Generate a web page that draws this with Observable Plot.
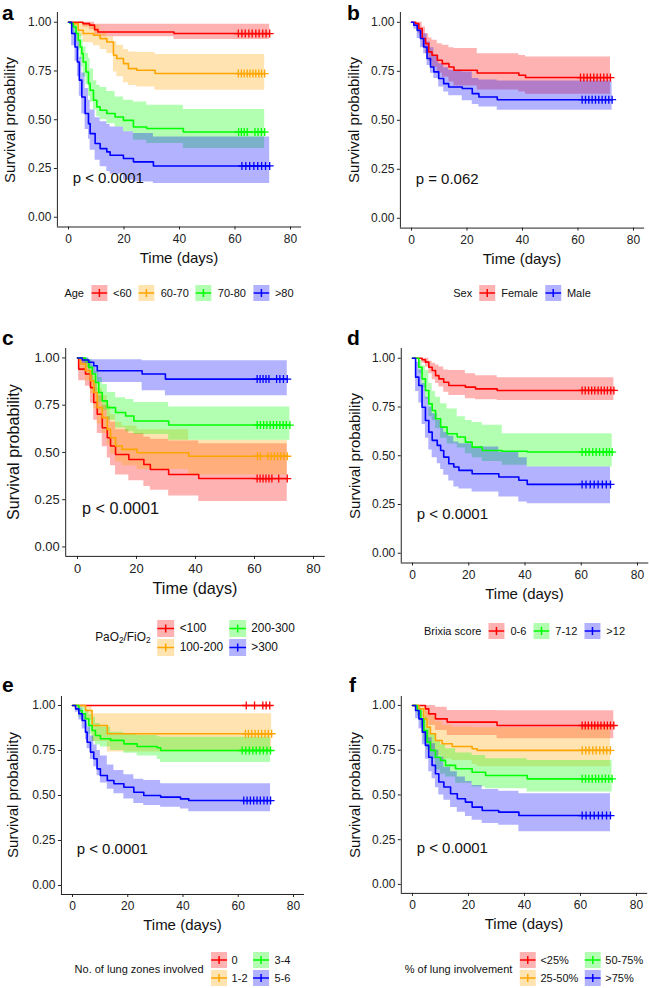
<!DOCTYPE html>
<html><head><meta charset="utf-8">
<script src="https://cdn.jsdelivr.net/npm/d3@7"></script>
<script src="https://cdn.jsdelivr.net/npm/@observablehq/plot@0.6"></script>
<style>
body{margin:0;background:#fff;}
#root{position:relative;width:649px;height:988px;overflow:hidden;font-family:"Liberation Sans",Arial,sans-serif;color:#111;}
.t{position:absolute;white-space:nowrap;line-height:1;}
sub{font-size:70%;vertical-align:-0.25em;line-height:0;}
</style></head><body><div id="root"></div>
<script>
// ---------- shared ticks ----------
const timeTicks = [0, 20, 40, 60, 80];
const survTicks = [0, 0.25, 0.5, 0.75, 1];
const xDomain = [-4, 84];
const yDomain = [-0.05, 1.05];
const pvalAt = [1.5, 0.2];

// rows: [time, survival, lower CI, upper CI]
// ---------- a: Age ----------
const ageLabels = ["<60", "60-70", "70-80", ">80"];
const ageLt60 = [[0,1,1,1],[5.2,0.993,0.975,1],[7.6,0.985,0.962,1],[9.4,0.962,0.935,0.99],[10.6,0.95,0.925,0.99],[38,0.942,0.912,0.99],[72.5,0.942,0.912,0.99]];
const age60to70 = [[0,1,1,1],[1.15,0.993,0.975,1],[3.5,0.959,0.925,0.995],[5.3,0.942,0.895,0.99],[9,0.933,0.88,0.985],[11.4,0.916,0.86,0.95],[13.8,0.899,0.84,0.925],[16.2,0.831,0.745,0.9],[17.4,0.814,0.72,0.882],[19.8,0.788,0.69,0.86],[21.6,0.762,0.675,0.848],[24.6,0.754,0.668,0.845],[31.2,0.737,0.651,0.835],[70.7,0.737,0.651,0.835]];
const age70to80 = [[0,1,1,1],[0.5,0.995,0.985,1],[1.7,0.976,0.94,1],[2.7,0.942,0.9,0.985],[3.5,0.908,0.856,0.96],[4.2,0.873,0.81,0.942],[4.8,0.839,0.771,0.91],[5.3,0.796,0.72,0.873],[6.3,0.745,0.68,0.84],[7.2,0.686,0.62,0.814],[7.8,0.651,0.59,0.76],[9.0,0.6,0.55,0.7],[10.2,0.566,0.515,0.677],[11.4,0.549,0.5,0.665],[13.8,0.532,0.48,0.645],[16.8,0.514,0.463,0.617],[19.8,0.497,0.438,0.6],[23.4,0.463,0.395,0.591],[28.2,0.455,0.378,0.574],[41.4,0.437,0.352,0.553],[70.7,0.437,0.352,0.553]];
const ageGt80 = [[0,1,1,1],[1.15,0.942,0.88,0.99],[2.35,0.873,0.8,0.95],[3.2,0.796,0.72,0.9],[3.9,0.703,0.62,0.82],[4.8,0.617,0.53,0.74],[6.0,0.532,0.45,0.66],[7.2,0.48,0.4,0.6],[7.8,0.429,0.344,0.55],[9.6,0.378,0.292,0.51],[11.4,0.352,0.259,0.49],[13.8,0.335,0.235,0.475],[15.0,0.318,0.22,0.463],[19.8,0.301,0.19,0.438],[23.4,0.284,0.181,0.429],[30.6,0.263,0.173,0.412],[72.5,0.263,0.173,0.412]];
const ageLt60Cens = [61.2,62.5,63.7,65.0,66.2,67.5,68.7,70.0,71.2,72.5];
const age60to70Cens = [61.2,62.3,63.3,64.4,65.4,66.5,67.5,68.6,69.6,70.7];
const age70to80Cens = [61.3,62.3,63.3,64.4,67.2,68.3,69.5,70.7];
const ageGt80Cens = [62.5,63.9,65.3,66.8,68.2,69.6,71.0,72.5];

// ---------- b: Sex ----------
const sexLabels = ["Female", "Male"];
const sexFemale = [[0,1,1,1],[1.44,0.993,0.98,1],[2.6,0.968,0.94,1],[3.85,0.917,0.874,0.976],[5.05,0.891,0.84,0.942],[6.2,0.849,0.8,0.92],[7.4,0.832,0.77,0.908],[9.3,0.806,0.74,0.89],[11.1,0.789,0.72,0.883],[13.5,0.772,0.695,0.87],[15.3,0.755,0.675,0.866],[23.7,0.741,0.655,0.84],[38.7,0.73,0.645,0.83],[41.1,0.718,0.633,0.823],[71.7,0.718,0.633,0.823]];
const sexMale = [[0,1,1,1],[0.84,0.985,0.965,1],[2.05,0.959,0.917,0.99],[3.24,0.917,0.87,0.96],[4.4,0.874,0.84,0.942],[5.6,0.815,0.78,0.9],[6.85,0.772,0.74,0.87],[8.05,0.747,0.713,0.832],[9.8,0.713,0.67,0.789],[11.6,0.687,0.645,0.768],[13.4,0.67,0.625,0.755],[18.3,0.662,0.6,0.747],[21.9,0.636,0.58,0.713],[24.3,0.619,0.568,0.705],[30.9,0.605,0.551,0.7],[72.3,0.605,0.551,0.7]];
const sexFemaleCens = [60.9,62.1,63.3,64.5,65.7,66.9,68.1,69.3,70.5,71.7];
const sexMaleCens = [61.5,62.7,63.9,65.1,66.3,67.5,68.7,69.9,71.1,72.3];

// ---------- c: PaO2/FiO2 ----------
const pfLabels = ["<100", "100-200", "200-300", ">300"];
const pfLt100 = [[0,1,1,1],[0.4,0.941,0.88,1],[2.7,0.915,0.85,0.98],[4.4,0.843,0.76,0.93],[5.5,0.764,0.67,0.87],[6.7,0.702,0.6,0.8],[8.4,0.631,0.53,0.75],[10.1,0.578,0.47,0.69],[11.2,0.534,0.43,0.66],[12.9,0.489,0.38,0.62],[17.4,0.463,0.35,0.6],[22.5,0.436,0.32,0.58],[24.7,0.41,0.3,0.57],[30.9,0.383,0.27,0.56],[41.1,0.362,0.241,0.546],[71.1,0.362,0.241,0.546]];
const pf100to200 = [[0,1,1,1],[1.0,0.968,0.93,1],[2.7,0.932,0.88,0.985],[4.4,0.879,0.81,0.95],[5.5,0.817,0.73,0.9],[6.7,0.737,0.65,0.84],[8.4,0.684,0.6,0.8],[10.1,0.622,0.54,0.75],[11.2,0.578,0.49,0.7],[12.9,0.534,0.45,0.66],[15.1,0.516,0.43,0.64],[20.2,0.498,0.41,0.62],[37.7,0.48,0.38,0.565],[71.1,0.48,0.38,0.565]];
const pf200to300 = [[0,1,1,1],[2.7,0.986,0.95,1],[3.8,0.95,0.91,0.99],[5.0,0.915,0.87,0.96],[6.1,0.87,0.82,0.93],[7.2,0.817,0.766,0.897],[8.4,0.773,0.72,0.86],[10.1,0.737,0.67,0.817],[12.9,0.711,0.63,0.79],[16.3,0.693,0.61,0.78],[19.1,0.666,0.595,0.764],[30.9,0.645,0.564,0.741],[72.0,0.645,0.564,0.741]];
const pfGt300 = [[0,1,1,1],[1.6,0.989,0.97,1],[3.8,0.977,0.95,0.99],[5.5,0.959,0.915,0.99],[6.7,0.932,0.87,0.99],[21.9,0.915,0.826,0.985],[29.8,0.888,0.8,0.985],[71.1,0.888,0.8,0.985]];
const pfLt100Cens = [60.9,61.9,62.9,63.9,64.9,65.9,68.2,71.1];
const pf100to200Cens = [61.0,62.0,64.5,65.6,66.7,67.8,68.9,70.0,71.1];
const pf200to300Cens = [60.9,62.0,63.1,64.2,65.3,66.4,67.5,68.6,69.7,70.8,72.0];
const pfGt300Cens = [60.9,61.9,62.9,63.9,64.9,67.5,68.6,69.8,71.1];

// ---------- d: Brixia score ----------
const brixLabels = ["0-6", "7-12", ">12"];
const brix0to6 = [[0,1,1,1],[3.4,0.992,0.975,1],[4.6,0.98,0.955,1],[5.8,0.954,0.92,0.985],[7.0,0.937,0.89,0.975],[8.2,0.911,0.87,0.965],[9.4,0.894,0.852,0.955],[11.1,0.877,0.826,0.94],[12.9,0.86,0.809,0.937],[18.8,0.852,0.792,0.92],[22.4,0.843,0.787,0.91],[30.1,0.835,0.783,0.9],[71.6,0.835,0.783,0.9]];
const brix7to12 = [[0,1,1,1],[2.25,0.954,0.92,0.99],[3.4,0.894,0.85,0.96],[4.6,0.835,0.79,0.937],[5.8,0.766,0.7,0.87],[7.0,0.732,0.68,0.83],[8.2,0.69,0.64,0.8],[10,0.647,0.59,0.767],[12.3,0.613,0.56,0.74],[15.9,0.596,0.54,0.7],[18.8,0.57,0.51,0.681],[21.2,0.544,0.49,0.67],[24.8,0.527,0.47,0.656],[31.9,0.523,0.451,0.613],[40.8,0.519,0.442,0.613],[71.0,0.519,0.442,0.613]];
const brixGt12 = [[0,1,1,1],[1.1,0.903,0.83,0.98],[2.25,0.86,0.77,0.94],[3.4,0.749,0.66,0.87],[4.6,0.681,0.59,0.8],[5.8,0.621,0.53,0.75],[7.0,0.579,0.49,0.715],[8.8,0.553,0.459,0.681],[10.0,0.527,0.43,0.65],[11.1,0.493,0.4,0.62],[12.9,0.459,0.37,0.6],[14.7,0.442,0.34,0.57],[16.5,0.425,0.33,0.562],[21.2,0.408,0.314,0.545],[30.7,0.391,0.289,0.519],[37.8,0.374,0.263,0.49],[40.8,0.353,0.254,0.442],[70.4,0.353,0.254,0.442]];
const brix0to6Cens = [60.3,61.4,62.6,63.7,64.8,66.0,67.1,68.2,69.3,70.5,71.6];
const brix7to12Cens = [60.3,61.6,62.8,64.1,65.3,66.5,67.8,69.0,70.0,71.0];
const brixGt12Cens = [60.3,61.7,63.2,64.6,66.0,67.5,68.9,70.4];

// ---------- e: No. of lung zones involved ----------
const zoneLabels = ["0", "1-2", "3-4", "5-6"];
const zone0 = [[0,1,1,1],[71.4,1,1,1]];
const zone1to2 = [[0,1,1,1],[4.7,0.972,0.917,1],[7.1,0.889,0.8,0.954],[12.6,0.843,0.741,0.954],[72.1,0.843,0.741,0.954]];
const zone3to4 = [[0,1,1,1],[2.3,0.972,0.935,1],[3.5,0.954,0.91,0.99],[4.7,0.926,0.88,0.976],[5.9,0.889,0.84,0.95],[7.1,0.861,0.8,0.935],[8.3,0.833,0.78,0.9],[10.1,0.815,0.769,0.88],[13.8,0.806,0.75,0.852],[18.6,0.787,0.735,0.84],[23.4,0.772,0.72,0.833],[30.7,0.765,0.7,0.826],[31.9,0.75,0.683,0.824],[71.7,0.75,0.683,0.824]];
const zone5to6 = [[0,1,1,1],[1.1,0.981,0.963,0.995],[2.3,0.954,0.92,0.985],[3.5,0.917,0.87,0.954],[4.7,0.852,0.81,0.9],[5.3,0.796,0.76,0.88],[6.5,0.741,0.7,0.83],[7.7,0.704,0.66,0.78],[8.9,0.648,0.61,0.75],[10.1,0.611,0.57,0.72],[12.6,0.583,0.535,0.67],[15.0,0.565,0.509,0.639],[18.6,0.546,0.48,0.615],[22.2,0.518,0.455,0.59],[25.8,0.5,0.444,0.583],[31.9,0.491,0.435,0.565],[39.1,0.481,0.425,0.565],[42.1,0.472,0.41,0.565],[71.7,0.472,0.41,0.565]];
const zone0Cens = [62.9,65.9,68.9,70.1,71.4];
const zone1to2Cens = [62.6,63.7,64.9,66.1,67.3,68.5,69.7,70.9,72.1];
const zone3to4Cens = [61.4,62.7,64.0,65.3,66.5,67.8,69.1,70.4,71.7];
const zone5to6Cens = [62.0,63.2,64.4,65.6,66.8,68.0,69.3,70.5,71.7];

// ---------- f: % of lung involvement ----------
const invLabels = ["<25%", "25-50%", "50-75%", ">75%"];
const invLt25 = [[0,1,1,1],[4.6,0.981,0.925,1],[5.8,0.953,0.888,1],[8.2,0.925,0.86,0.99],[12.4,0.907,0.832,0.972],[30.2,0.888,0.814,0.97],[71.9,0.888,0.814,0.97]];
const inv25to50 = [[0,1,1,1],[2.3,0.981,0.935,1],[4.0,0.925,0.851,0.99],[5.2,0.879,0.795,0.96],[6.4,0.842,0.749,0.94],[8.2,0.804,0.721,0.91],[10.6,0.786,0.7,0.89],[14.2,0.771,0.693,0.88],[21.3,0.758,0.67,0.877],[23.1,0.749,0.658,0.875],[70.7,0.749,0.658,0.875]];
const inv50to75 = [[0,1,1,1],[1.7,0.972,0.944,1],[2.9,0.925,0.88,0.97],[4.0,0.86,0.8,0.935],[5.2,0.795,0.75,0.88],[6.4,0.749,0.7,0.84],[8.2,0.711,0.64,0.804],[10,0.693,0.615,0.78],[11.8,0.665,0.6,0.758],[15.4,0.646,0.565,0.735],[21.3,0.627,0.545,0.72],[26.1,0.609,0.534,0.702],[41,0.59,0.516,0.693],[71.3,0.59,0.516,0.693]];
const invGt75 = [[0,1,1,1],[1.1,0.972,0.925,1],[2.3,0.925,0.87,0.981],[3.5,0.851,0.78,0.925],[4.6,0.777,0.7,0.86],[5.8,0.711,0.63,0.82],[7.0,0.665,0.59,0.786],[8.2,0.618,0.54,0.75],[9.4,0.572,0.5,0.711],[11.2,0.544,0.47,0.655],[13.6,0.507,0.43,0.63],[16.0,0.479,0.404,0.6],[18.9,0.46,0.38,0.575],[21.3,0.432,0.358,0.553],[24.9,0.413,0.34,0.53],[30.8,0.404,0.33,0.52],[38.0,0.385,0.295,0.507],[70.7,0.385,0.295,0.507]];
const invLt25Cens = [60.6,61.7,62.8,64.0,65.1,66.2,67.3,68.5,69.6,70.7,71.9];
const inv25to50Cens = [60.6,61.9,63.1,64.4,65.6,66.9,68.2,69.4,70.7];
const inv50to75Cens = [60.6,61.8,63.0,64.2,65.4,66.5,67.7,68.9,70.1,71.3];
const invGt75Cens = [60.6,62.0,63.5,64.9,66.4,67.8,69.3,70.7];

// ---------- colours ----------
const RED = "#FF0000", ORANGE = "#FFA500", GREEN = "#00FF00", BLUE = "#0000FF";

// ---------- panels (layout + references to data) ----------
const panels = [
  {letter:"a", left:0, x0:68, x80:290, y1:22, y0:217, scale:1, yTitleX:9, letterX:2, letterBase:20, legendY:293, legendTitle:"Age", grid:false,
   pval:"p < 0.0001", groups:[[ageLabels[0],ageLt60,ageLt60Cens,RED],[ageLabels[1],age60to70,age60to70Cens,ORANGE],[ageLabels[2],age70to80,age70to80Cens,GREEN],[ageLabels[3],ageGt80,ageGt80Cens,BLUE]]},
  {letter:"b", left:325, x0:411, x80:633, y1:22, y0:218, scale:1, yTitleX:353, letterX:347, letterBase:20, legendY:293, legendTitle:"Sex", grid:false,
   pval:"p = 0.062", groups:[[sexLabels[0],sexFemale,sexFemaleCens,RED],[sexLabels[1],sexMale,sexMaleCens,BLUE]]},
  {letter:"c", left:0, x0:77, x80:313, y1:357, y0:546, scale:1.08, yTitleX:13, letterX:2, letterBase:345, legendY:638, legendTitle:"PaO<sub>2</sub>/FiO<sub>2</sub>", grid:true,
   pval:"p < 0.0001", groups:[[pfLabels[0],pfLt100,pfLt100Cens,RED],[pfLabels[1],pf100to200,pf100to200Cens,ORANGE],[pfLabels[2],pf200to300,pf200to300Cens,GREEN],[pfLabels[3],pfGt300,pfGt300Cens,BLUE]]},
  {letter:"d", left:325, x0:412, x80:637, y1:358, y0:553, scale:1, yTitleX:354, letterX:347, letterBase:345, legendY:631, legendTitle:"Brixia score", grid:false,
   pval:"p < 0.0001", groups:[[brixLabels[0],brix0to6,brix0to6Cens,RED],[brixLabels[1],brix7to12,brix7to12Cens,GREEN],[brixLabels[2],brixGt12,brixGt12Cens,BLUE]]},
  {letter:"e", left:0, x0:72, x80:293, y1:705, y0:885, scale:1, yTitleX:12, letterX:2, letterBase:692, legendY:969, legendTitle:"No. of lung zones involved", grid:true,
   pval:"p < 0.0001", groups:[[zoneLabels[0],zone0,zone0Cens,RED],[zoneLabels[1],zone1to2,zone1to2Cens,ORANGE],[zoneLabels[2],zone3to4,zone3to4Cens,GREEN],[zoneLabels[3],zone5to6,zone5to6Cens,BLUE]]},
  {letter:"f", left:325, x0:412, x80:636, y1:705, y0:884, scale:1, yTitleX:354, letterX:349, letterBase:692, legendY:969, legendTitle:"% of lung involvement", grid:true,
   pval:"p < 0.0001", groups:[[invLabels[0],invLt25,invLt25Cens,RED],[invLabels[1],inv25to50,inv25to50Cens,ORANGE],[invLabels[2],inv50to75,inv50to75Cens,GREEN],[invLabels[3],invGt75,invGt75Cens,BLUE]]}
];

const root = document.getElementById("root");
const FONT = '"Liberation Sans", Arial, sans-serif';

function stepAt(rows, t) { let s = rows[0][1]; for (const r of rows) if (r[0] <= t) s = r[1]; return s; }

function addText(html, x, y, opts = {}) {
  const el = document.createElement("div");
  el.className = "t";
  el.innerHTML = html;
  const fs = opts.size || 12;
  let tf = "";
  el.style.fontSize = fs + "px";
  if (opts.bold) el.style.fontWeight = "bold";
  el.style.color = opts.color || "#111";
  if (opts.baseline) { el.style.left = x + "px"; el.style.top = (y - 0.8465 * fs) + "px"; }
  else { el.style.left = x + "px"; el.style.top = y + "px"; tf = "translate(-50%,-50%)" + (opts.rotate ? " rotate(-90deg)" : ""); }
  el.style.transform = tf;
  root.appendChild(el);
  return el;
}

function swatch(color, size) {
  const c = d3.color(color); c.opacity = 0.3;
  const m = size / 2;
  return `<span style="display:inline-block;width:${size}px;height:${size}px;background:${c.formatRgb()};vertical-align:middle"><svg width="${size}" height="${size}" style="display:block"><line x1="0" x2="${size}" y1="${m}" y2="${m}" stroke="${color}" stroke-width="1.5"/><line x1="${m}" x2="${m}" y1="${m-4}" y2="${m+4}" stroke="${color}" stroke-width="1.5"/></svg></span>`;
}

for (const p of panels) {
  const k = (p.x80 - p.x0) / 80;
  const plotL = p.x0 - 4 * k, plotR = p.x80 + 4 * k;
  const h = p.y0 - p.y1;
  const plotT = p.y1 - 0.05 * h, plotB = p.y0 + 0.05 * h;
  const svgLeft = p.left, svgTop = plotT - 8;
  const W = plotR - svgLeft + 8, H = plotB - svgTop + 28;
  const s = p.scale;
  const marks = [];
  p.groups.forEach(([lab, rows, cens, col]) => marks.push(Plot.areaY(rows, {x: d => d[0], y1: d => d[2], y2: d => d[3], curve: "step-after", fill: col, fillOpacity: 0.3})));
  p.groups.forEach(([lab, rows, cens, col]) => marks.push(Plot.line(rows, {x: d => d[0], y: d => d[1], curve: "step-after", stroke: col, strokeWidth: 1.6})));
  p.groups.forEach(([lab, rows, cens, col]) => marks.push(Plot.dot(cens, {x: d => d, y: d => stepAt(rows, d), symbol: "plus", stroke: col, fill: "none", r: 2.7, strokeWidth: 1.3})));
  marks.push(Plot.ruleX([xDomain[0]], {stroke: "#222", strokeWidth: 1}));
  marks.push(Plot.ruleY([yDomain[0]], {stroke: "#222", strokeWidth: 1}));
  marks.push(Plot.text([p.pval], {x: () => pvalAt[0], y: () => pvalAt[1], text: d => d, textAnchor: "start", fontSize: 15 * s, fill: "#111"}));
  const svg = Plot.plot({
    width: W, height: H,
    marginLeft: plotL - svgLeft, marginRight: W - (plotR - svgLeft),
    marginTop: plotT - svgTop, marginBottom: H - (plotB - svgTop),
    x: {domain: xDomain, ticks: timeTicks, tickSize: 3, tickPadding: 4, label: null},
    y: {domain: yDomain, ticks: survTicks, tickFormat: d3.format(".2f"), tickSize: 3, tickPadding: 3, label: null},
    style: {fontFamily: FONT, fontSize: (12 * s) + "px", color: "#222", background: "transparent", overflow: "visible"},
    marks
  });
  svg.style.position = "absolute";
  svg.style.left = svgLeft + "px";
  svg.style.top = svgTop + "px";
  root.appendChild(svg);

  const cx = (plotL + plotR) / 2, cy = (plotT + plotB) / 2;
  addText(p.letter, p.letterX, p.letterBase, {baseline: true, bold: true, size: 21, color: "#000"});
  addText("Survival probability", p.yTitleX, cy, {rotate: true, size: 15 * s});
  addText("Time (days)", cx, plotB + 30 * (s > 1 ? 1.1 : 1), {size: 15 * s});

  // legend
  const lg = document.createElement("div");
  const fs = 11 * s, bx = Math.round(16 * s);
  lg.style.cssText = `position:absolute;left:${cx}px;top:${p.legendY}px;transform:translate(-50%,-50%);display:flex;align-items:center;white-space:nowrap;font-size:${fs}px;line-height:1;color:#111;`;
  let html = `<span style="margin-right:7px">${p.legendTitle}</span>`;
  if (!p.grid) {
    html += p.groups.map(([lab, rows, cens, col], i) =>
      `${swatch(col, bx)}<span style="margin-left:6px;margin-right:${i < p.groups.length - 1 ? 7 : 0}px">${lab}</span>`).join("");
  } else {
    html += `<div style="display:grid;grid-template-columns:auto auto auto auto;row-gap:2px;align-items:center">` +
      p.groups.map(([lab, rows, cens, col], i) => {
        const r = (i % 2) + 1, c = Math.floor(i / 2) * 2 + 1;
        return `<div style="grid-row:${r};grid-column:${c};height:${bx}px">${swatch(col, bx)}</div><div style="grid-row:${r};grid-column:${c + 1};margin-left:5px;margin-right:${c === 1 ? 6 : 0}px">${lab}</div>`;
      }).join("") + `</div>`;
  }
  lg.innerHTML = html;
  root.appendChild(lg);
}
</script></body></html>
